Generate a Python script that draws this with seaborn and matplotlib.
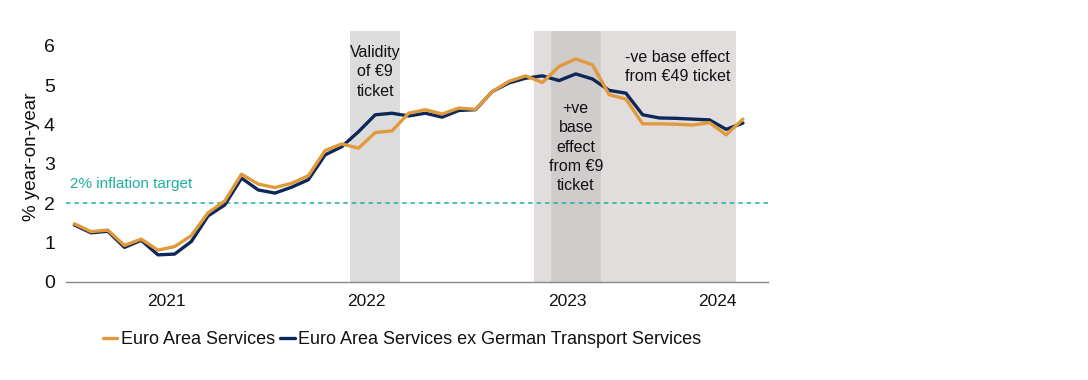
import numpy as np
import pandas as pd
import matplotlib
matplotlib.use("Agg")
import matplotlib.pyplot as plt
import seaborn as sns

# monthly, Jan 2021 - May 2024 (% y/y)
months = pd.date_range("2021-01-01", "2024-05-01", freq="MS")
ea_services = [1.48, 1.28, 1.32, 0.93, 1.09, 0.81, 0.90, 1.18, 1.76, 2.06,
               2.74, 2.49, 2.40, 2.51, 2.70, 3.34, 3.51, 3.40, 3.80, 3.84,
               4.29, 4.38, 4.27, 4.42, 4.39, 4.84, 5.10, 5.24, 5.07, 5.48,
               5.67, 5.52, 4.76, 4.65, 4.02, 4.02, 4.01, 3.99, 4.05, 3.74,
               4.14]
ea_services_ex_de = [1.45, 1.25, 1.29, 0.88, 1.06, 0.69, 0.71, 1.03, 1.68, 1.96,
                     2.64, 2.34, 2.26, 2.41, 2.60, 3.23, 3.44, 3.82, 4.25, 4.29,
                     4.22, 4.29, 4.19, 4.36, 4.38, 4.84, 5.06, 5.18, 5.24, 5.12,
                     5.29, 5.16, 4.87, 4.80, 4.25, 4.17, 4.16, 4.14, 4.12, 3.88,
                     4.04]
year_labels = ["2021", "2022", "2023", "2024"]

ORANGE = "#e09a3c"
NAVY = "#0d2858"
TEAL = "#1fb09e"
INK = "#111111"

# x position = months since Jan 2021, centred in the month
xpos = np.arange(len(months)) + 0.5
df = pd.DataFrame({"x": xpos, "ea": ea_services, "ex": ea_services_ex_de})

sns.set_style("white")
plt.rcParams["font.family"] = ["Liberation Sans", "DejaVu Sans"]
plt.rcParams["text.color"] = INK
plt.rcParams["xtick.color"] = INK
plt.rcParams["ytick.color"] = INK
plt.rcParams["axes.labelcolor"] = INK

fig = plt.figure(figsize=(10.88, 3.8), dpi=100)
ax = fig.add_axes([66 / 1088, 98 / 380, 702 / 1088, 251 / 380])

# shaded periods
ax.axvspan(17, 20, color="#dcdcdc", lw=0, zorder=0)
ax.axvspan(28, 40.1, color="#e1dddd", lw=0, zorder=0)
ax.axvspan(29, 32, color="#d0cccc", lw=0, zorder=0)

ax.axhline(2, color=TEAL, lw=1.1, ls=(0, (3, 2.5)), zorder=1)

sns.lineplot(data=df, x="x", y="ex", ax=ax, color=NAVY, lw=2.4, zorder=3,
             label="Euro Area Services ex German Transport Services")
sns.lineplot(data=df, x="x", y="ea", ax=ax, color=ORANGE, lw=2.4, zorder=4,
             label="Euro Area Services")

ax.set_xlim(0, 42)
ax.set_ylim(0, 6.38)
ax.set_yticks(range(0, 7))
ax.tick_params(axis="y", length=0, labelsize=14, pad=8)
ax.set_xticks([0, 12, 24, 36])
ax.set_xticklabels([])
ax.set_xticks([6, 18, 30, 39], minor=True)
ax.set_xticklabels(year_labels, minor=True)
ax.tick_params(axis="x", which="major", length=4, color="#888888", width=1)
ax.tick_params(axis="x", which="minor", length=0, labelsize=12.5, pad=9)
ax.set_xlabel("")
ax.set_ylabel("% year-on-year", fontsize=13.5, labelpad=3)

for s in ["left", "right", "top"]:
    ax.spines[s].set_visible(False)
ax.spines["bottom"].set_color("#888888")
ax.spines["bottom"].set_linewidth(1)

ax.text(0.25, 2.49, "2% inflation target", color=TEAL, fontsize=11,
        ha="left", va="center")
ax.text(18.5, 5.34, "Validity\nof €9\nticket", fontsize=11.5, ha="center",
        va="center", linespacing=1.35)
ax.text(30.5, 3.43, "+ve\nbase\neffect\nfrom €9\nticket", fontsize=11.5,
        ha="center", va="center", linespacing=1.35)
ax.text(36.6, 5.47, "-ve base effect\nfrom €49 ticket", fontsize=11.5,
        ha="center", va="center", linespacing=1.35)

handles, labels = ax.get_legend_handles_labels()
leg = ax.legend(handles[::-1], labels[::-1], loc="center",
                bbox_to_anchor=(402 / 1088, 1 - 340 / 380),
                bbox_transform=fig.transFigure, ncol=2, frameon=False,
                fontsize=13, handlelength=0.8, handletextpad=0.2,
                columnspacing=0.3, borderaxespad=0)

fig.savefig("out.png", dpi=100)
